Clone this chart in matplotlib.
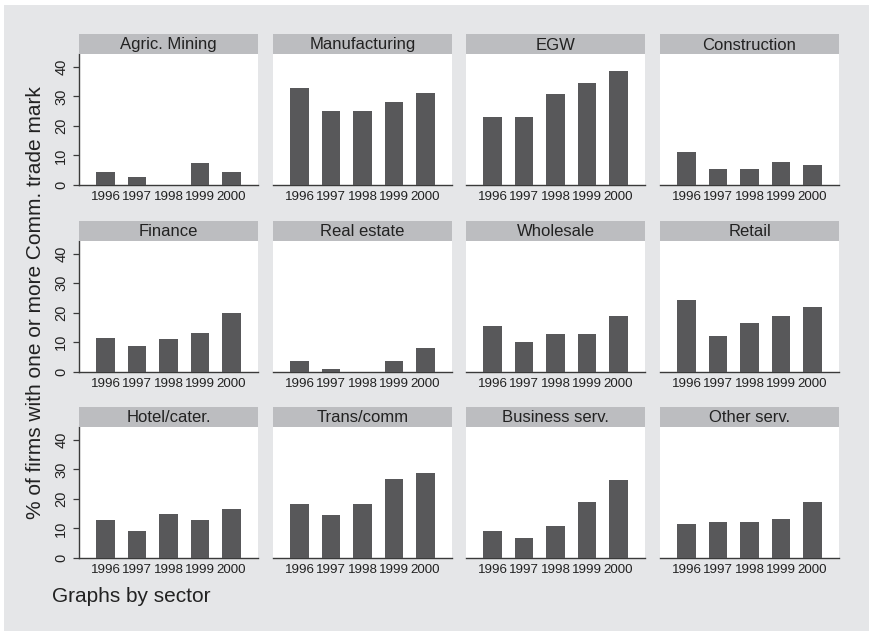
import matplotlib
matplotlib.use("Agg")
import matplotlib.pyplot as plt
from matplotlib.patches import Rectangle

plt.rcParams["font.family"] = ["Liberation Sans", "DejaVu Sans"]

# Share of firms holding at least one Community trade mark, by sector and year
years = ["1996", "1997", "1998", "1999", "2000"]
sectors = ["Agric. Mining", "Manufacturing", "EGW", "Construction",
           "Finance", "Real estate", "Wholesale", "Retail",
           "Hotel/cater.", "Trans/comm", "Business serv.", "Other serv."]

agric_mining = [4.4, 2.7, 0.0, 7.5, 4.4]
manufacturing = [33.0, 25.2, 25.2, 28.2, 31.3]
egw = [23.1, 23.1, 30.9, 34.7, 38.8]
construction = [11.2, 5.4, 5.4, 7.8, 6.8]
finance = [11.4, 8.7, 11.0, 13.1, 19.8]
real_estate = [3.6, 0.9, 0.0, 3.6, 8.0]
wholesale = [15.4, 10.0, 12.7, 12.7, 18.8]
retail = [24.2, 12.0, 16.4, 18.8, 21.8]
hotel_cater = [12.9, 9.2, 14.9, 12.9, 16.6]
trans_comm = [18.3, 14.6, 18.3, 26.7, 28.7]
business_serv = [9.2, 6.8, 10.9, 18.9, 26.3]
other_serv = [11.5, 12.2, 12.2, 13.2, 18.9]

series = [agric_mining, manufacturing, egw, construction,
          finance, real_estate, wholesale, retail,
          hotel_cater, trans_comm, business_serv, other_serv]

y_ticks = [0, 10, 20, 30, 40]

W, H = 869, 631
BG = "#e5e6e8"
STRIP = "#bcbdc0"
BAR = "#58585a"
AXIS = "#3a3a3a"
TXT = "#222222"

fig = plt.figure(figsize=(W / 100, H / 100), dpi=100)
fig.patch.set_facecolor("white")
fig.patches.append(Rectangle((4 / W, 0), 1 - 4 / W, (H - 5) / H,
                             transform=fig.transFigure, facecolor=BG,
                             edgecolor="none", zorder=-10))


def box(left, top, width, height):
    return [left / W, 1 - (top + height) / H, width / W, height / H]


col_left = [79, 273, 466, 660]
row_top = [54, 240.7, 427]
pw, ph, sh = 179, 131, 20

xpos = list(range(len(years)))

for i, (name, vals) in enumerate(zip(sectors, series)):
    r, c = divmod(i, 4)
    ax = fig.add_axes(box(col_left[c], row_top[r], pw, ph))
    ax.set_facecolor("white")
    ax.bar(xpos, vals, width=0.6, color=BAR, zorder=3)
    ax.set_xlim(-0.84, 4.84)
    ax.set_ylim(0, 44.4)
    ax.set_xticks(xpos)
    ax.set_xticklabels(years, fontsize=9.6, color=TXT)
    ax.tick_params(axis="x", length=0, pad=4.5)
    for s in ["top", "right"]:
        ax.spines[s].set_visible(False)
    ax.spines["bottom"].set_color(AXIS)
    ax.spines["bottom"].set_linewidth(1.0)
    if c == 0:
        ax.spines["left"].set_color(AXIS)
        ax.spines["left"].set_linewidth(1.0)
        ax.set_yticks(y_ticks)
        ax.set_yticklabels([str(t) for t in y_ticks], rotation=90,
                           va="center", fontsize=10.5, color=TXT)
        ax.tick_params(axis="y", length=4.3, width=0.9, color=AXIS, pad=3.5)
    else:
        ax.spines["left"].set_visible(False)
        ax.set_yticks([])

    # strip title above each panel
    st = fig.add_axes(box(col_left[c], row_top[r] - sh, pw, sh))
    st.set_facecolor(STRIP)
    st.set_xticks([])
    st.set_yticks([])
    for s in st.spines.values():
        s.set_visible(False)
    st.text(0.5, 0.45, name, ha="center", va="center", fontsize=12,
            color=TXT, transform=st.transAxes)

fig.text(36 / W, 1 - 303 / H, "% of firms with one or more Comm. trade mark",
         rotation=90, ha="center", va="center", fontsize=15, color=TXT)
fig.text(52 / W, 1 - 596 / H, "Graphs by sector", ha="left", va="center",
         fontsize=15, color=TXT)

fig.savefig("out.png", dpi=100, facecolor=fig.get_facecolor())
